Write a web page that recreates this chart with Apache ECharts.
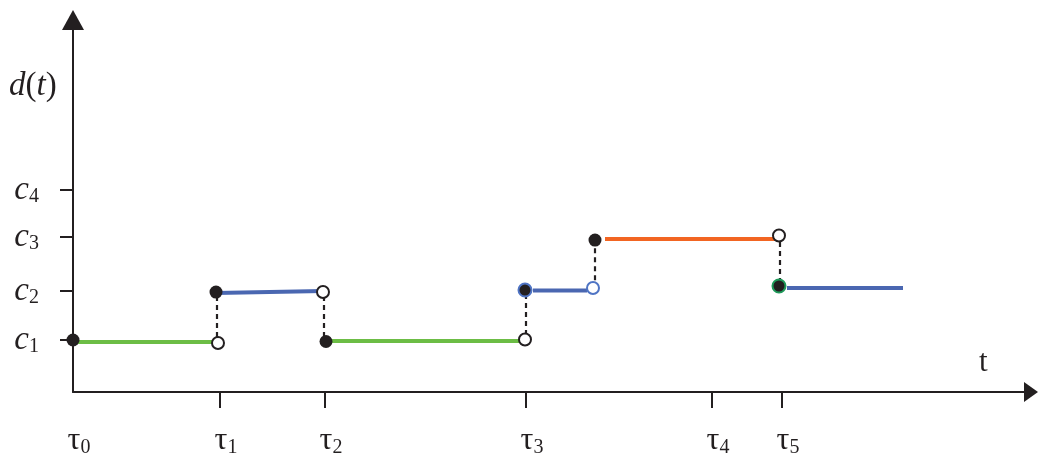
<!DOCTYPE html>
<html>
<head>
<meta charset="utf-8">
<script src="https://cdn.jsdelivr.net/npm/echarts@6/dist/echarts.min.js"></script>
<style>
html,body{margin:0;padding:0;background:#fff;}
#c{width:1040px;height:457px;}
</style>
</head>
<body>
<div id="c"></div>
<script>
// ---- data ----
const tauTicks = [0, 1.47, 2.52, 4.53, 6.39, 7.09];
const tauLabels = ['τ0', 'τ1', 'τ2', 'τ3', 'τ4', 'τ5'];
const levelTicks = [1.03, 2.0, 3.07, 4.0];
const levelLabels = ['c1', 'c2', 'c3', 'c4'];

const segGreen1 = [[0, 0.99], [1.45, 0.99]];
const segBlue1 = [[1.43, 1.96], [2.5, 2.0]];
const segGreen2 = [[2.53, 1.01], [4.52, 1.01]];
const segBlue2 = [[4.6, 2.01], [5.14, 2.01]];
const segOrange = [[5.32, 3.03], [7.03, 3.03]];
const segBlue3 = [[7.14, 2.06], [8.3, 2.06]];

const dash1 = [[1.44, 1.9], [1.44, 1.07]];
const dash2 = [[2.51, 1.9], [2.51, 1.11]];
const dash3 = [[4.53, 1.94], [4.53, 1.13]];
const dash4 = [[5.22, 2.85], [5.22, 2.16]];
const dash5 = [[7.07, 2.97], [7.07, 2.22]];

const filledPts = [[0, 1.03], [1.43, 1.98], [2.53, 1.0], [5.22, 3.01]];
const openPts = [[1.45, 0.97], [2.5, 1.98], [4.52, 1.04], [7.06, 3.1]];
const filledBluePts = [[4.52, 2.02]];
const openBluePts = [[5.2, 2.06]];
const filledGreenPts = [[7.06, 2.1]];

// ---- styles ----
const INK = '#231f20';
const GREEN = '#6cbd45';
const BLUE = '#4a67b1';
const ORANGE = '#f26522';
const SERIF = '"Liberation Serif", "DejaVu Serif", serif';

function nearest(arr, v) {
  let bi = 0, bd = Infinity;
  arr.forEach((a, i) => { const d = Math.abs(a - v); if (d < bd) { bd = d; bi = i; } });
  return bi;
}

function seg(data, color) {
  return {
    type: 'line', data: data, showSymbol: false, symbol: 'none', silent: true,
    lineStyle: { color: color, width: 4, cap: 'butt' }, z: 3, animation: false
  };
}
function dash(data) {
  return {
    type: 'line', data: data, showSymbol: false, symbol: 'none', silent: true,
    lineStyle: { color: INK, width: 2.2, type: [5, 4], cap: 'butt' }, z: 2, animation: false
  };
}
function pts(data, fill, border, bw, size) {
  return {
    type: 'scatter', data: data, symbol: 'circle', symbolSize: size, silent: true,
    itemStyle: { color: fill, borderColor: border, borderWidth: bw, opacity: 1 },
    z: 5, animation: false
  };
}

const chart = echarts.init(document.getElementById('c'), null, { renderer: 'canvas' });
chart.setOption({
  backgroundColor: '#ffffff',
  animation: false,
  grid: { left: 73, right: 9, top: 20, bottom: 65, containLabel: false, outerBoundsMode: 'none' },
  xAxis: {
    type: 'value', min: 0, max: 9.58,
    axisLine: { show: true, onZero: false, symbol: ['none', 'triangle'], symbolSize: [20, 14],
      lineStyle: { color: INK, width: 2 } },
    axisTick: { show: true, customValues: tauTicks.slice(1), length: 16, inside: false,
      lineStyle: { color: INK, width: 2 } },
    axisLabel: {
      show: true, customValues: tauTicks, margin: 32, color: INK,
      formatter: function (v) {
        const lab = tauLabels[nearest(tauTicks, v)];
        return '{p|}{g|' + lab.charAt(0) + '}{s|' + lab.slice(1) + '}';
      },
      rich: {
        p: { width: 12 },
        g: { fontSize: 32, lineHeight: 34, fontFamily: SERIF, color: INK },
        s: { fontSize: 20, lineHeight: 20, fontFamily: SERIF, color: INK, verticalAlign: 'bottom' }
      }
    },
    splitLine: { show: false }
  },
  yAxis: {
    type: 'value', min: 0, max: 7.37,
    axisLine: { show: true, onZero: false, symbol: ['none', 'triangle'], symbolSize: [22, 20],
      lineStyle: { color: INK, width: 2 } },
    axisTick: { show: true, customValues: levelTicks, length: 13, inside: false,
      lineStyle: { color: INK, width: 2 } },
    axisLabel: {
      show: true, customValues: levelTicks, margin: 34, color: INK,
      formatter: function (v) {
        const lab = levelLabels[nearest(levelTicks, v)];
        return '{g|' + lab.charAt(0) + '}{s|' + lab.slice(1) + '}';
      },
      rich: {
        g: { fontSize: 33, lineHeight: 34, fontStyle: 'italic', fontFamily: SERIF, color: INK },
        s: { fontSize: 20, lineHeight: 20, fontFamily: SERIF, color: INK, verticalAlign: 'bottom' }
      }
    },
    splitLine: { show: false }
  },
  graphic: [
    {
      type: 'text', left: 9, top: 70, silent: true,
      style: {
        text: '{i|d}{r|(}{i|t}{r|)}',
        rich: {
          i: { fontSize: 33, fontStyle: 'italic', fontFamily: SERIF, fill: INK },
          r: { fontSize: 33, fontFamily: SERIF, fill: INK }
        }
      }
    },
    {
      type: 'text', left: 979, top: 347, silent: true,
      style: { text: 't', fontSize: 31, fontFamily: SERIF, fill: INK }
    }
  ],
  series: [
    seg(segGreen1, GREEN),
    seg(segBlue1, BLUE),
    seg(segGreen2, GREEN),
    seg(segBlue2, BLUE),
    seg(segOrange, ORANGE),
    seg(segBlue3, BLUE),
    dash(dash1), dash(dash2), dash(dash3), dash(dash4), dash(dash5),
    pts(filledPts, INK, INK, 0, 13),
    pts(openPts, '#ffffff', INK, 2, 12),
    pts(filledBluePts, INK, '#4f74c4', 2, 13),
    pts(openBluePts, '#ffffff', '#4f74c4', 2, 12),
    pts(filledGreenPts, INK, '#1f9a5a', 2, 13)
  ]
});
</script>
</body>
</html>
